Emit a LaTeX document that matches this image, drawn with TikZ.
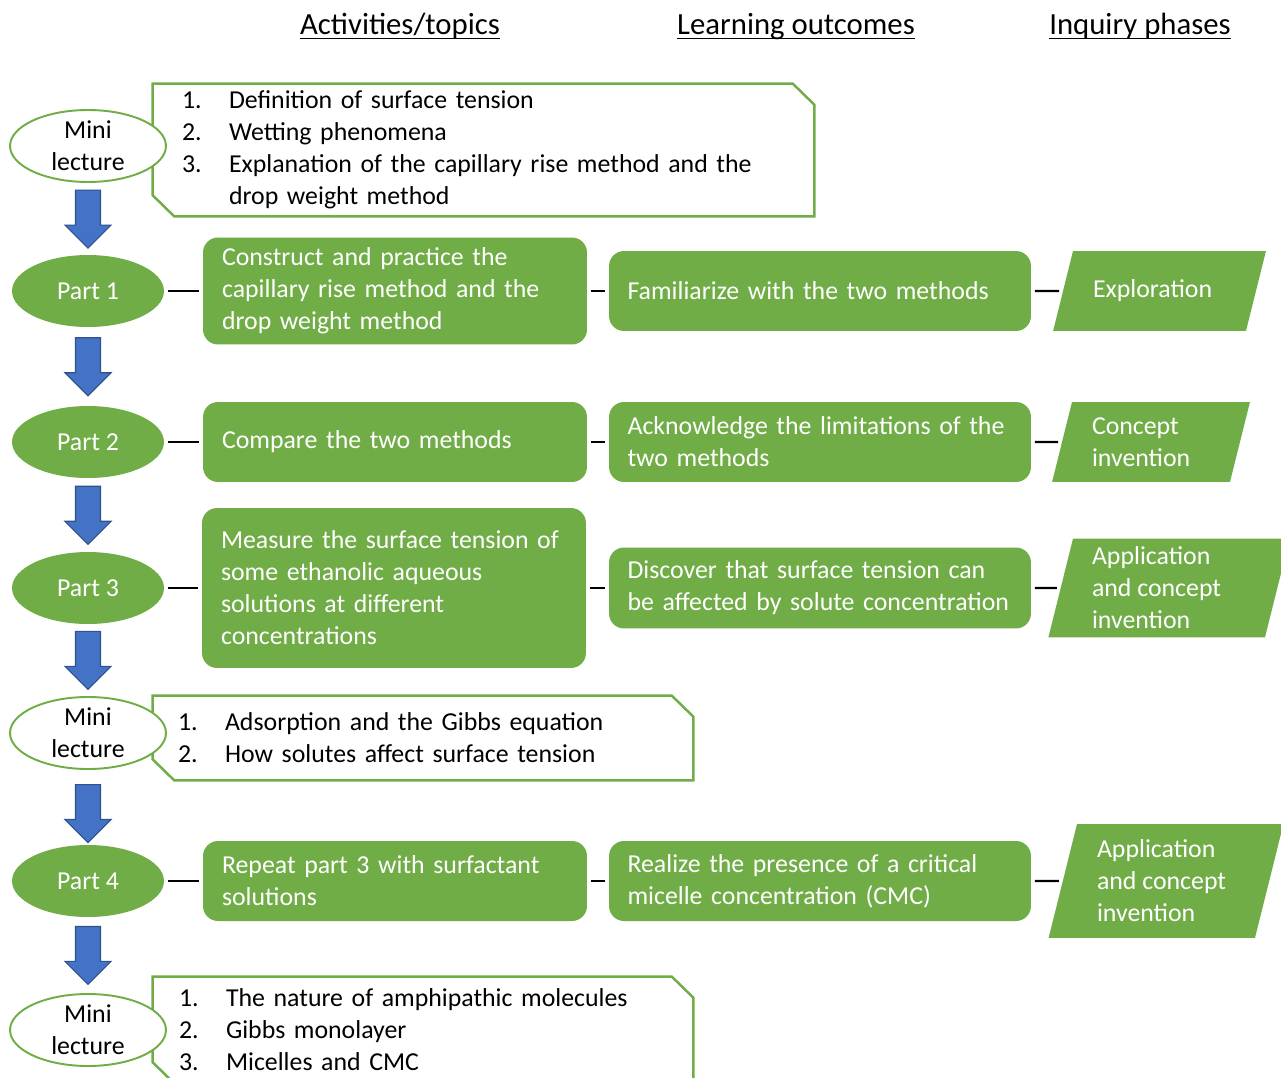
\documentclass[tikz,border=0pt]{standalone}
\usepackage{fontspec}
\setmainfont{Carlito}
\usetikzlibrary{shapes.geometric,shapes.arrows}
\definecolor{leafgreen}{HTML}{70AD47}
\definecolor{flowblue}{HTML}{4472C4}
\definecolor{flowblueline}{HTML}{2F528F}
\newcommand{\itm}[1]{\makebox[0.94cm][l]{#1}}
\newcommand{\phz}[3]{\parbox[c][#2][c]{#1}{\raggedright #3}}
\tikzset{
  txt/.style={font=\fontsize{14.7pt}{18.2pt}\selectfont},
  hdr/.style={inner sep=0pt, anchor=base, font=\fontsize{17.5pt}{21pt}\selectfont},
  hdrline/.style={line width=0.8pt},
  stage/.style={txt, ellipse, inner sep=0pt, minimum width=3.04cm, minimum height=1.44cm,
    fill=leafgreen, text=white, align=center},
  lecture/.style={stage, minimum width=3.12cm, fill=white, draw=leafgreen, line width=1.1pt, text=black},
  lecbox/.style={txt, rectangle, align=left, inner ysep=0pt},
  lecline/.style={draw=leafgreen, line width=1.4pt},
  task/.style={txt, rectangle, rounded corners=0.3cm, fill=leafgreen, text=white, align=left,
    inner xsep=0.38cm, inner ysep=0pt, text width=6.92cm},
  outcome/.style={task, inner xsep=0.37cm, text width=7.7cm},
  phase/.style={txt, trapezium, trapezium left angle=76, trapezium right angle=104,
    fill=leafgreen, text=white, inner xsep=0.4cm, inner ysep=0pt},
  link/.style={line width=1.4pt, shorten <=0.07cm, shorten >=0.07cm},
  downarrow/.style={single arrow, shape border rotate=270, inner xsep=0.24cm, inner ysep=0pt,
    minimum height=1.16cm, minimum width=0.9cm, single arrow head extend=0.21cm,
    fill=flowblue, draw=flowblueline, line width=0.6pt, yshift=0.12cm}
}
\begin{document}
\begin{tikzpicture}[x=0.02cm, y=-0.02cm]
\clip (0,0) rectangle (1281,1078);
\fill[white] (0,0) rectangle (1281,1078);
% column heads
\node[hdr] (h1) at (400,35) {Activities/topics};
\node[hdr] (h2) at (796,35) {Learning outcomes};
\node[hdr] (h3) at (1140,35) {Inquiry phases};
\foreach \h in {h1,h2,h3}
  \draw[hdrline] ([yshift=-0.07cm]\h.base west) -- ([yshift=-0.07cm]\h.base east);
% mini lectures
\node[lecbox, text width=12.06cm, inner xsep=0.58cm, minimum height=2.64cm] (lb1) at (483.5,150) {%
  \itm{1.}Definition of surface tension\\
  \itm{2.}Wetting phenomena\\
  \itm{3.}Explanation of the capillary rise method and the\\
  \hspace*{0.94cm}drop weight method};
\node[lecbox, text width=9.8cm, inner xsep=0.5cm, minimum height=1.68cm] (lb2) at (423,738) {%
  \itm{1.}Adsorption and the Gibbs equation\\
  \itm{2.}How solutes affect surface tension};
\node[lecbox, text width=9.76cm, inner xsep=0.52cm, minimum height=2.12cm] (lb3) at (423,1030) {%
  \itm{1.}The nature of amphipathic molecules\\
  \itm{2.}Gibbs monolayer\\
  \itm{3.}Micelles and CMC};
\foreach \b in {lb1,lb2,lb3}
  \draw[lecline] (\b.north west) -- ([xshift=-0.43cm]\b.north east) -- ([yshift=-0.42cm]\b.north east)
    -- (\b.south east) -- ([xshift=0.43cm]\b.south west) -- ([yshift=0.42cm]\b.south west) -- cycle;
\node[lecture] (ml1) at (88,146) {Mini\\lecture};
\node[lecture] (ml2) at (88,733) {Mini\\lecture};
\node[lecture] (ml3) at (88,1030) {Mini\\lecture};
% parts
\node[stage] (p1) at (88,291) {Part 1};
\node[stage] (p2) at (88,442) {Part 2};
\node[stage] (p3) at (88,588) {Part 3};
\node[stage] (p4) at (88,881) {Part 4};
% activities
\node[task, minimum height=2.14cm] (a1) at (395,291) {Construct and practice the\\capillary rise method and the\\drop weight method};
\node[task, minimum height=1.6cm] (a2) at (395,442) {Compare the two methods};
\node[task, minimum height=3.2cm] (a3) at (394,588) {Measure the surface tension of\\some ethanolic aqueous\\solutions at different\\concentrations};
\node[task, minimum height=1.6cm] (a4) at (395,881) {Repeat part 3 with surfactant\\solutions};
% outcomes
\node[outcome, minimum height=1.6cm] (o1) at (820,291) {Familiarize with the two methods};
\node[outcome, minimum height=1.6cm] (o2) at (820,442) {Acknowledge the limitations of the\\two methods};
\node[outcome, minimum height=1.62cm] (o3) at (820,588) {Discover that surface tension can\\be affected by solute concentration};
\node[outcome, minimum height=1.6cm] (o4) at (820,881) {Realize the presence of a critical\\micelle concentration (CMC)};
% inquiry phases
\node[phase] (f1) at (1159.5,291) {\phz{2.66cm}{1.6cm}{Exploration}};
\node[phase] (f2) at (1151,442) {\phz{2.36cm}{1.6cm}{Concept\\invention}};
\node[phase, inner xsep=0.38cm] (f3) at (1169,588) {\phz{3.08cm}{1.98cm}{Application\\and concept\\invention}};
\node[phase] (f4) at (1166,881) {\phz{2.76cm}{2.28cm}{Application\\and concept\\invention}};
% connectors
\foreach \a/\b in {p1/a1,a1/o1,o1/f1,p2/a2,a2/o2,o2/f2,p3/a3,a3/o3,o3/f3,p4/a4,a4/o4,o4/f4}
  \draw[link] (\a.east) -- (\b.west);
% flow arrows
\foreach \a/\b/\p [count=\i] in {ml1/p1/0.5,p1/p2/0.5,p2/p3/0.5,p3/ml2/0.5,ml2/p4/0.58,p4/ml3/0.5}
  \path (\a) -- (\b) node[downarrow, pos=\p] (ar\i) {};
\end{tikzpicture}
\end{document}
